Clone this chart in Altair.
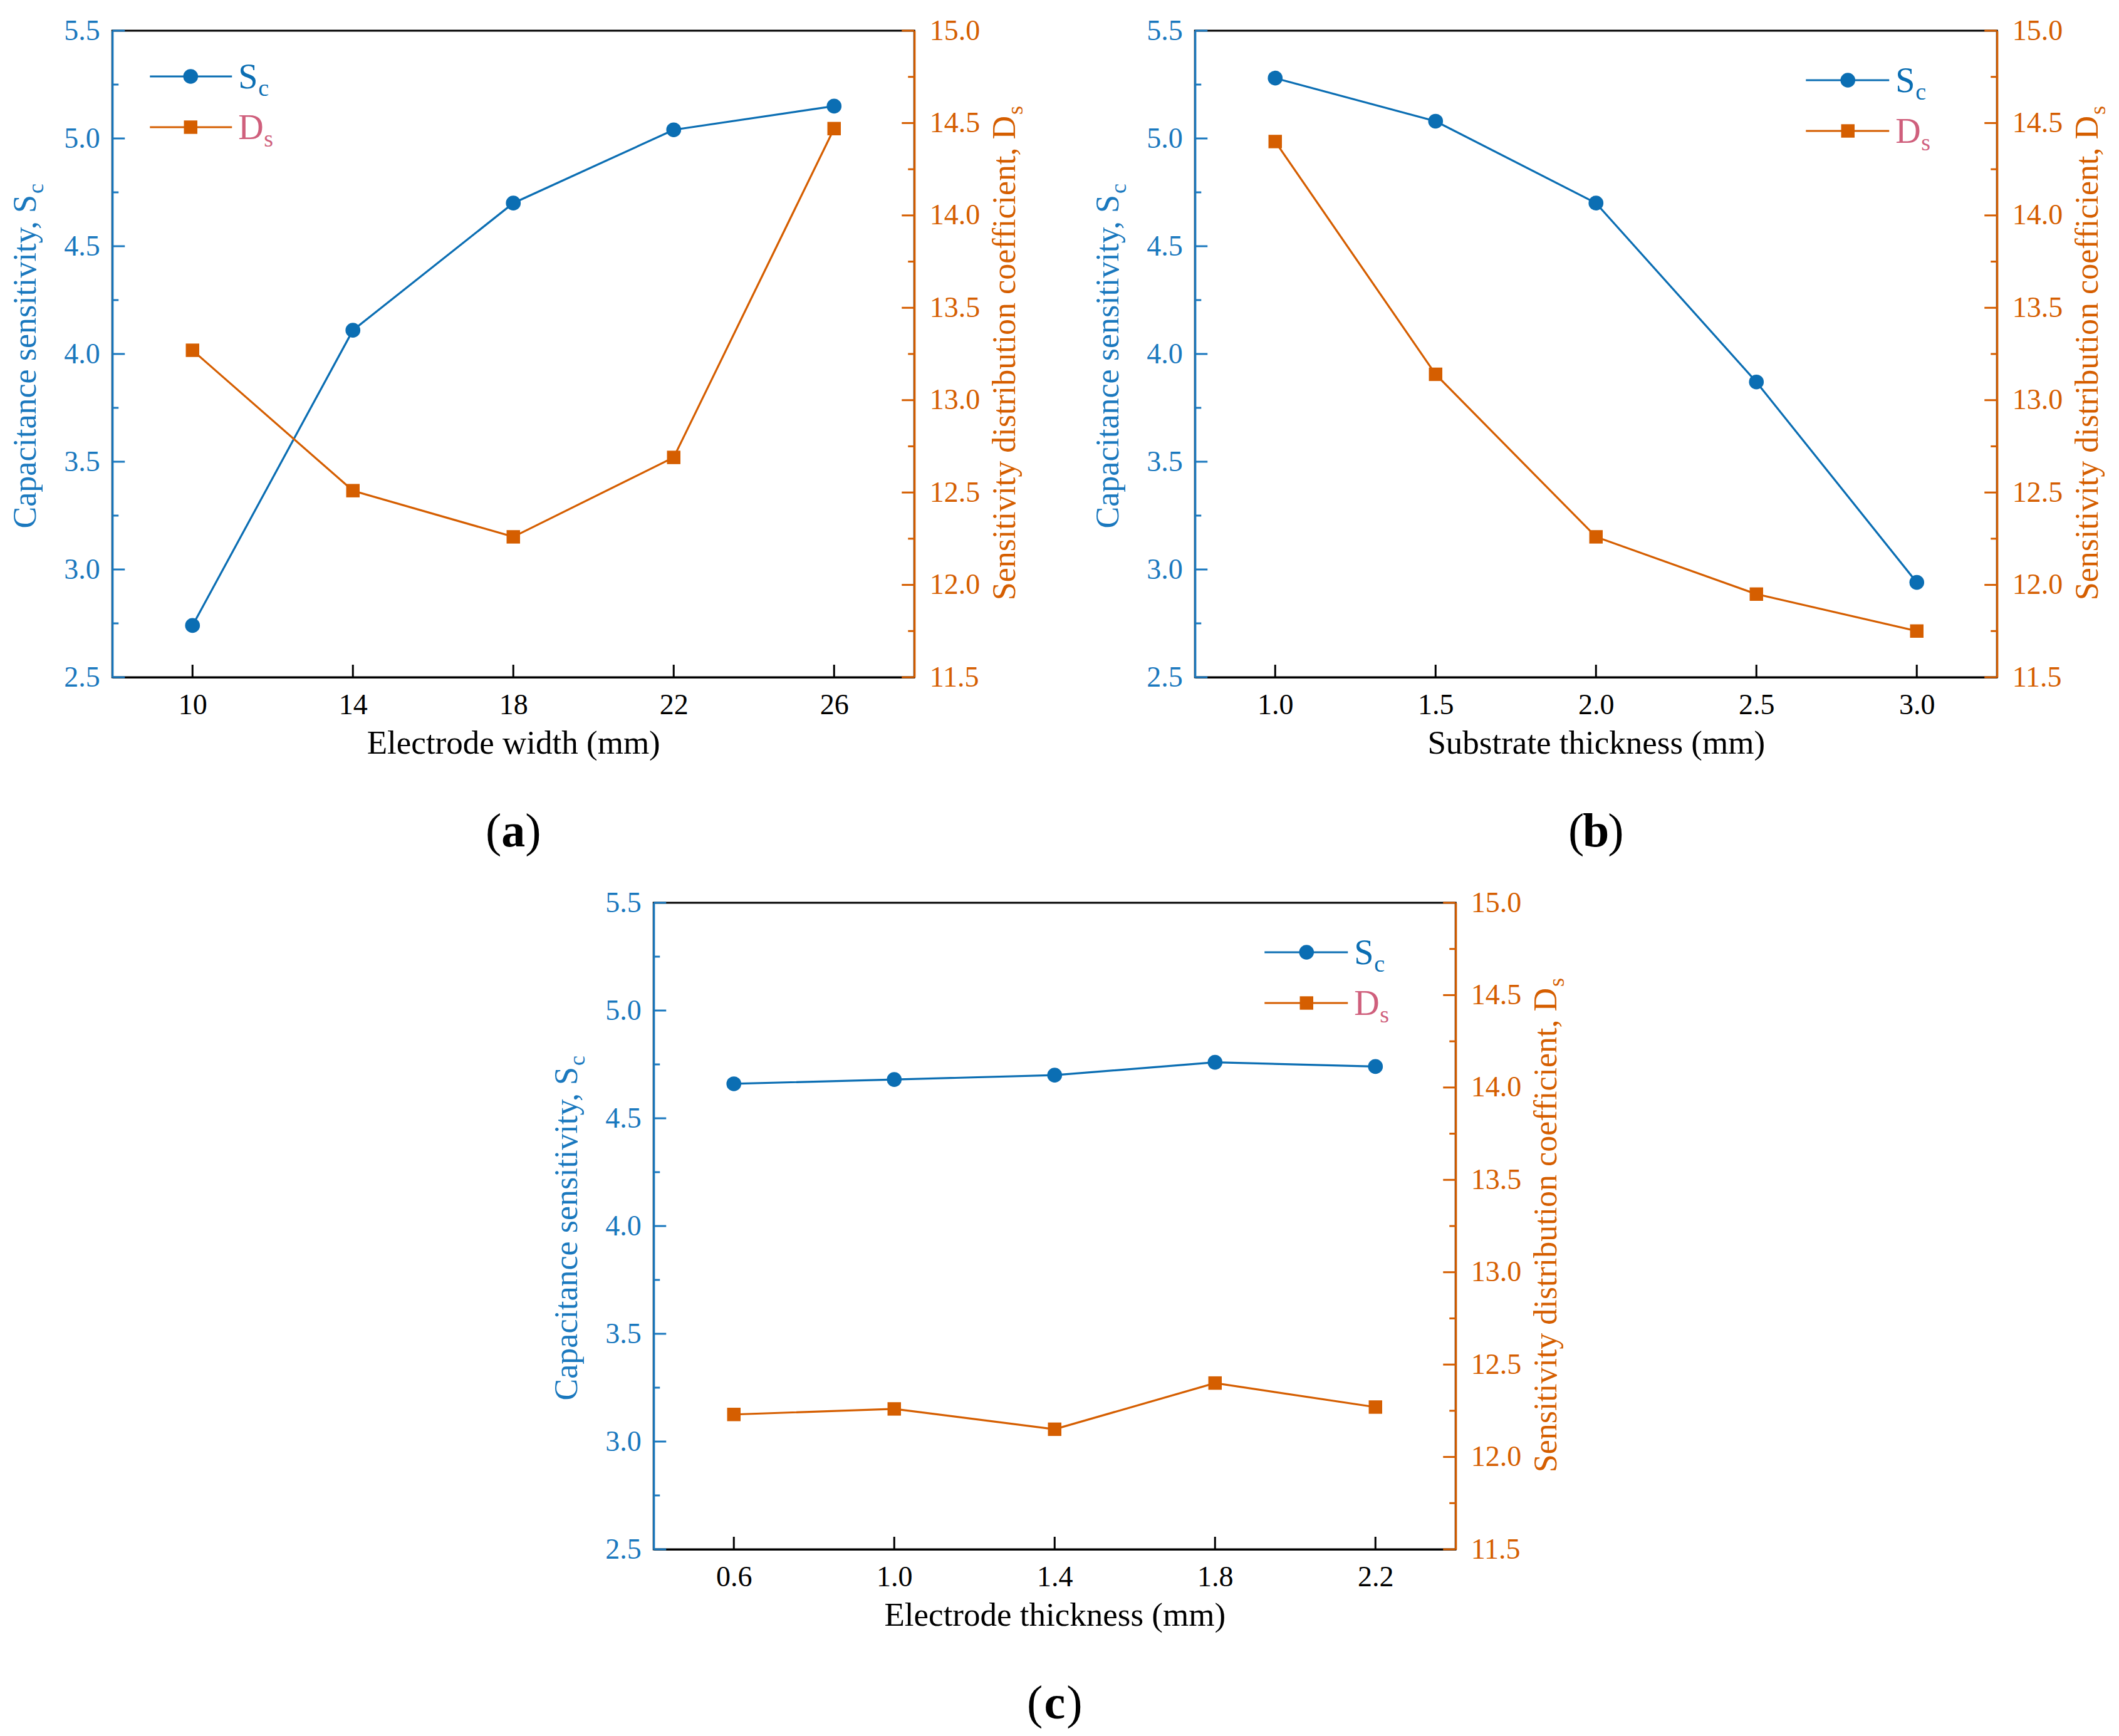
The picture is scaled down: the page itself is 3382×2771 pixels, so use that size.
import altair as alt
import pandas as pd

FONT = "Liberation Serif"
BLUE = "#0b6eb3"
AXIS_BLUE = "#1a78be"
ORANGE = "#d55e00"
PINK = "#cf5f7c"

W, H = 1280, 1032

# (a) electrode width
width_mm = [10, 14, 18, 22, 26]
width_sc = [2.74, 4.11, 4.70, 5.04, 5.15]
width_ds = [13.27, 12.51, 12.26, 12.69, 14.47]

# (b) substrate thickness
substrate_mm = [1.0, 1.5, 2.0, 2.5, 3.0]
substrate_sc = [5.28, 5.08, 4.70, 3.87, 2.94]
substrate_ds = [14.40, 13.14, 12.26, 11.95, 11.75]

# (c) electrode thickness
thick_mm = [0.6, 1.0, 1.4, 1.8, 2.2]
thick_sc = [4.66, 4.68, 4.70, 4.76, 4.74]
thick_ds = [12.23, 12.26, 12.15, 12.40, 12.27]

# axis ticks
SC_DOMAIN = [2.5, 5.5]
SC_MAJOR = [2.5, 3.0, 3.5, 4.0, 4.5, 5.0, 5.5]
SC_MINOR = [2.75, 3.25, 3.75, 4.25, 4.75, 5.25]
DS_DOMAIN = [11.5, 15.0]
DS_MAJOR = [11.5, 12.0, 12.5, 13.0, 13.5, 14.0, 14.5, 15.0]
DS_MINOR = [11.75, 12.25, 12.75, 13.25, 13.75, 14.25, 14.75]


def one():
    return alt.Chart(alt.Data(values=[{}]))


def text_at(x, y, text, size, color, align="left", angle=0, dx=0, dy=0, weight="normal"):
    return one().mark_text(
        text=text, font=FONT, fontSize=size, color=color, align=align,
        baseline="alphabetic", angle=angle, dx=dx, dy=dy, fontWeight=weight,
    ).encode(x=alt.value(x), y=alt.value(y))


def tick_rules(values, scale, color, x0, x1):
    return (
        alt.Chart(pd.DataFrame({"v": values}))
        .mark_rule(color=color, strokeWidth=3)
        .encode(y=alt.Y("v:Q", scale=scale, axis=None), x=alt.value(x0), x2=alt.value(x1))
    )


def panel(xs, sc, ds, x_domain, x_ticks, x_fmt, x_title, letter, legend_left, rows):
    df = pd.DataFrame({"x": xs, "sc": sc, "ds": ds})
    xs_scale = alt.Scale(domain=x_domain, nice=False, zero=False)
    y_sc = alt.Scale(domain=SC_DOMAIN, nice=False, zero=False)
    y_ds = alt.Scale(domain=DS_DOMAIN, nice=False, zero=False)
    x_ax = alt.Axis(values=x_ticks, format=x_fmt, title=x_title, domainColor="black",
                    labelColor="black", titleColor="black", labelPadding=22, titlePadding=12)

    def xenc(field="x"):
        # same axis everywhere so the shared x axis merges cleanly
        return alt.X(f"{field}:Q", scale=xs_scale, axis=x_ax)

    base = alt.Chart(df)

    sc_line = base.mark_line(color=BLUE, strokeWidth=3.2).encode(
        x=xenc(),
        y=alt.Y("sc:Q", scale=y_sc, axis=alt.Axis(
            orient="left", values=SC_MAJOR, format=".1f", title=None,
            domainColor=AXIS_BLUE, labelColor=AXIS_BLUE, labelPadding=20)),
    )
    sc_pts = base.mark_point(shape="circle", filled=True, size=560, opacity=1, color=BLUE).encode(
        x=xenc(), y=alt.Y("sc:Q", scale=y_sc, axis=None))
    ds_line = base.mark_line(color=ORANGE, strokeWidth=3.2).encode(
        x=xenc(),
        y=alt.Y("ds:Q", scale=y_ds, axis=alt.Axis(
            orient="right", values=DS_MAJOR, format=".1f", title=None,
            domainColor=ORANGE, labelColor=ORANGE, labelPadding=24)),
    )
    ds_pts = base.mark_point(shape="square", filled=True, size=460, opacity=1, color=ORANGE).encode(
        x=xenc(), y=alt.Y("ds:Q", scale=y_ds, axis=None))

    # inward ticks
    ticks = [
        tick_rules(SC_MAJOR, y_sc, AXIS_BLUE, 0, 20),
        tick_rules(SC_MINOR, y_sc, AXIS_BLUE, 0, 10),
        tick_rules(DS_MAJOR, y_ds, ORANGE, W, W - 20),
        tick_rules(DS_MINOR, y_ds, ORANGE, W, W - 10),
        alt.Chart(pd.DataFrame({"v": x_ticks})).mark_rule(color="black", strokeWidth=3).encode(
            x=xenc("v"), y=alt.value(H), y2=alt.value(H - 20)),
    ]

    # y titles with subscripts
    titles = [
        text_at(-122, H / 2 - 254, "Capacitance sensitivity, S", 52, AXIS_BLUE, "right", 270),
        text_at(-122, H / 2 - 254, "c", 36, AXIS_BLUE, "left", 270, dx=2, dy=12),
        text_at(W + 161, H / 2 - 380, "Sensitivity distribution coefficient, D", 52, ORANGE, "right", 270),
        text_at(W + 161, H / 2 - 380, "s", 36, ORANGE, "left", 270, dx=2, dy=12),
    ]

    # legend
    if legend_left:
        lx0, lx1, lmk, ltx = 60, 191, 125, 201
    else:
        lx0, lx1, lmk, ltx = W - 305, W - 172, W - 238, W - 162
    r1, r2 = rows
    legend = [
        one().mark_rule(color=BLUE, strokeWidth=3.2).encode(x=alt.value(lx0), x2=alt.value(lx1), y=alt.value(r1)),
        one().mark_point(shape="circle", filled=True, size=560, opacity=1, color=BLUE).encode(
            x=alt.value(lmk), y=alt.value(r1)),
        one().mark_rule(color=ORANGE, strokeWidth=3.2).encode(x=alt.value(lx0), x2=alt.value(lx1), y=alt.value(r2)),
        one().mark_point(shape="square", filled=True, size=460, opacity=1, color=ORANGE).encode(
            x=alt.value(lmk), y=alt.value(r2)),
        text_at(ltx, r1 + 19, "S", 56, BLUE),
        text_at(ltx + 32, r1 + 31, "c", 38, BLUE),
        text_at(ltx, r2 + 19, "D", 56, PINK),
        text_at(ltx + 41, r2 + 31, "s", 38, PINK),
    ]

    # caption like "(a)"
    caption = [
        text_at(W / 2 - 19, H + 270, "(", 76, "black", "right"),
        text_at(W / 2, H + 270, letter, 76, "black", "center", weight="bold"),
        text_at(W / 2 + 19, H + 270, ")", 76, "black", "left"),
    ]

    layers = [sc_line, sc_pts, ds_line, ds_pts] + ticks + titles + legend + caption
    return alt.layer(*layers).resolve_scale(y="independent").properties(width=W, height=H)


pa = panel(width_mm, width_sc, width_ds, [8, 28], width_mm, "d",
           "Electrode width (mm)", "a", True, (73, 154))
pb = panel(substrate_mm, substrate_sc, substrate_ds, [0.75, 3.25], substrate_mm, ".1f",
           "Substrate thickness (mm)", "b", False, (79, 160))
pc = panel(thick_mm, thick_sc, thick_ds, [0.4, 2.4], thick_mm, ".1f",
           "Electrode thickness (mm)", "c", False, (79, 160))

chart = (
    alt.vconcat(alt.hconcat(pa, pb, spacing=100), pc, spacing=48, center=True)
    .properties(padding={"left": 5, "top": 16, "right": 5, "bottom": 5}, background="white")
    .configure_view(stroke="black", strokeWidth=3)
    .configure_axis(
        labelFont=FONT, titleFont=FONT, labelFontSize=46, titleFontSize=53,
        titleFontWeight="normal", domainWidth=3.2, ticks=False, tickSize=0,
        grid=False, labelOverlap=False,
    )
)

chart.save("out.html", embed_options={"renderer": "svg", "actions": False})
